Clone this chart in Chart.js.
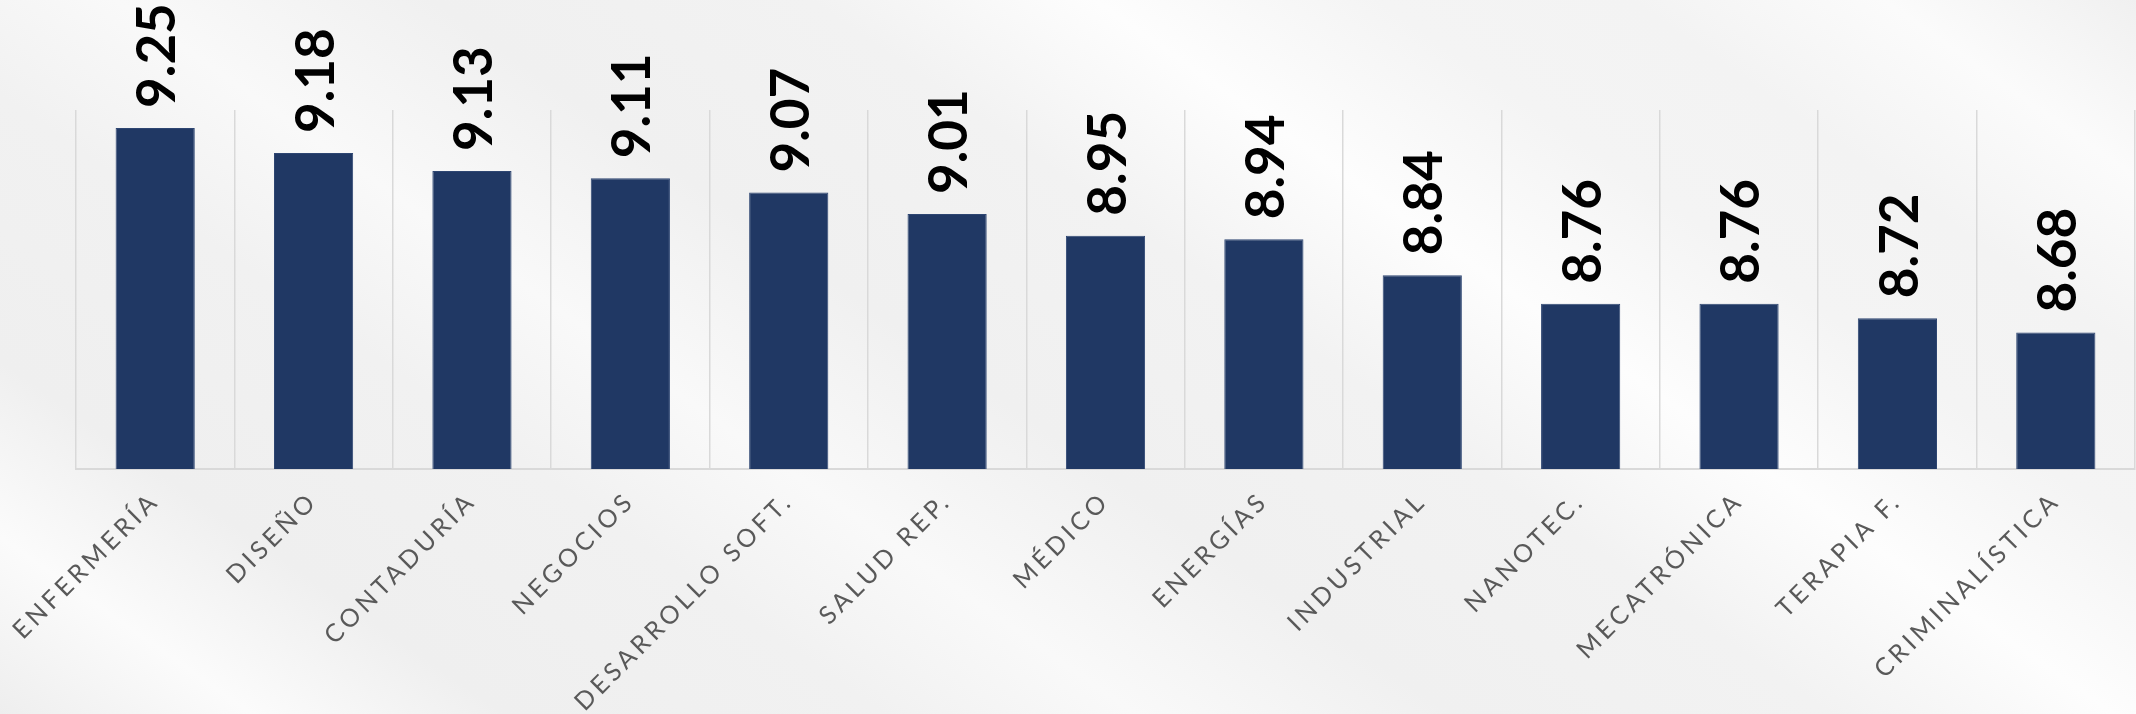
<!DOCTYPE html>
<html lang="es">
<head>
<meta charset="utf-8">
<title>Promedio por carrera</title>
<script src="https://cdn.jsdelivr.net/npm/chart.js@4.4.1/dist/chart.umd.min.js"></script>
<style>
    html, body { margin: 0; padding: 0; }
    body {
        width: 2136px;
        height: 714px;
        overflow: hidden;
        background:
            linear-gradient(35deg,
                #eeeeee 0%, #fbfbfb 8%, #efefef 16%,
                #f1f1f1 28%, #f9f9f9 36%, #f0f0f0 46%,
                #f2f2f2 58%, #fdfdfd 67%, #f4f4f4 76%,
                #f3f3f3 84%, #fbfbfb 92%, #f0f0f0 100%);
    }
    #wrap { position: relative; width: 2136px; height: 714px; }
</style>
</head>
<body>
<div id="wrap"><canvas id="chartCarreras" width="2136" height="714"></canvas></div>
<script>
(function () {
    'use strict';

    // ── Data ────────────────────────────────────────────────────
    const CARRERAS = [
        'ENFERMERÍA', 'DISEÑO', 'CONTADURÍA', 'NEGOCIOS', 'DESARROLLO SOFT.',
        'SALUD REP.', 'MÉDICO', 'ENERGÍAS', 'INDUSTRIAL', 'NANOTEC.',
        'MECATRÓNICA', 'TERAPIA F.', 'CRIMINALÍSTICA',
    ];
    const PROMEDIOS = [9.25, 9.18, 9.13, 9.11, 9.07, 9.01, 8.95, 8.94, 8.84, 8.76, 8.76, 8.72, 8.68];
    const Y_MIN = 8.3;
    const Y_MAX = 9.3;

    const BAR_COLOR   = '#203864';
    const GRID_COLOR  = '#d9d9d9';
    const LABEL_COLOR = '#595959';

    // ── Plugins ─────────────────────────────────────────────────

    // wide tracking on the category labels only
    const tracking = {
        id: 'tracking',
        beforeLayout(chart)        { chart.ctx.letterSpacing = '4px'; },
        beforeDraw(chart)          { chart.ctx.letterSpacing = '4px'; },
        beforeDatasetsDraw(chart)  { chart.ctx.letterSpacing = '0px'; },
    };

    // rotated value labels above each bar
    const valueLabels = {
        id: 'valueLabels',
        afterDatasetsDraw(chart) {
            const ctx = chart.ctx;
            const meta = chart.getDatasetMeta(0);
            ctx.save();
            ctx.letterSpacing = '0px';
            ctx.font = 'bold 53px Lato';
            ctx.fillStyle = '#000000';
            ctx.textAlign = 'left';
            ctx.textBaseline = 'middle';
            meta.data.forEach((bar, i) => {
                ctx.save();
                ctx.translate(bar.x + 3, bar.y - 20);
                ctx.rotate(-Math.PI / 2);
                ctx.fillText(PROMEDIOS[i].toFixed(2), 0, 0);
                ctx.restore();
            });
            ctx.restore();
        },
    };

    // ── Chart ───────────────────────────────────────────────────

    new Chart(document.getElementById('chartCarreras'), {
        type: 'bar',
        data: {
            labels: CARRERAS,
            datasets: [{
                data: PROMEDIOS,
                backgroundColor: BAR_COLOR,
                borderColor: '#2e4672',
                borderWidth: 1,
                barPercentage: 0.5,
                categoryPercentage: 1.0,
            }],
        },
        options: {
            responsive: false,
            animation: false,
            devicePixelRatio: 1,
            layout: { padding: { left: 76, top: 110, right: 1, bottom: 0 } },
            plugins: {
                legend:  { display: false },
                tooltip: { enabled: false },
            },
            scales: {
                x: {
                    grid: { color: GRID_COLOR, lineWidth: 1.5, drawTicks: false, offset: true },
                    border: { color: GRID_COLOR, width: 2 },
                    ticks: {
                        color: LABEL_COLOR,
                        font: { family: 'Lato', size: 25, weight: 400 },
                        minRotation: 45,
                        maxRotation: 45,
                        autoSkip: false,
                        padding: 17,
                    },
                    afterFit(scale) {
                        scale.height = 245;
                        // labels may spill past the left edge, keep the plot where it is
                        scale.paddingLeft = 0;
                        scale.paddingRight = 0;
                    },
                },
                y: {
                    display: false,
                    min: Y_MIN,
                    max: Y_MAX,
                },
            },
        },
        plugins: [tracking, valueLabels],
    });
})();
</script>
</body>
</html>
